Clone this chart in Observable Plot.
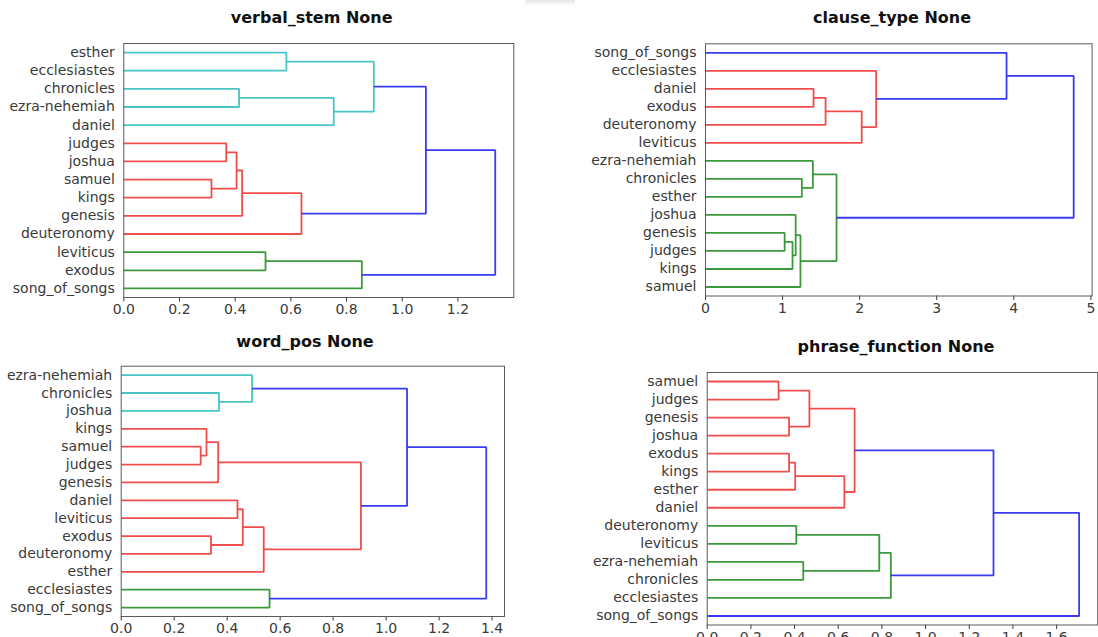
<!DOCTYPE html>
<html><head><meta charset="utf-8">
<script src="https://cdn.jsdelivr.net/npm/d3@7"></script>
<script src="https://cdn.jsdelivr.net/npm/@observablehq/plot@0.6"></script>
<style>
html,body{margin:0;padding:0;background:#fff;}
body{overflow:hidden;width:1098px;height:637px;position:relative;font-family:"DejaVu Sans",sans-serif;}
.panel{position:absolute;}
.title{position:absolute;font-weight:bold;font-size:16px;color:#111;transform:translate(-50%,-50%);white-space:nowrap;font-family:"DejaVu Sans",sans-serif;}
.shade{position:absolute;left:525px;top:0;width:50px;height:6px;background:linear-gradient(#e6e6e6,#fff);}
</style></head><body>
<div class="shade"></div>
<script>
// ---- data ----
const titles = ["verbal_stem None", "clause_type None", "word_pos None", "phrase_function None"];

const leaves1 = ["esther","ecclesiastes","chronicles","ezra-nehemiah","daniel","judges","joshua","samuel","kings","genesis","deuteronomy","leviticus","exodus","song_of_songs"];
// [left child, right child, merge height, cluster colour]; numbers refer to earlier merges
const merges1 = [
  ["esther","ecclesiastes",0.584,"c"],
  ["chronicles","ezra-nehemiah",0.414,"c"],
  [1,"daniel",0.754,"c"],
  [0,2,0.898,"c"],
  ["judges","joshua",0.368,"r"],
  ["samuel","kings",0.315,"r"],
  [4,5,0.405,"r"],
  [6,"genesis",0.425,"r"],
  [7,"deuteronomy",0.638,"r"],
  [3,8,1.085,"b"],
  ["leviticus","exodus",0.509,"g"],
  [10,"song_of_songs",0.855,"g"],
  [9,11,1.334,"b"]
];
const xTicks1 = [0,0.2,0.4,0.6,0.8,1.0,1.2];

const leaves2 = ["song_of_songs","ecclesiastes","daniel","exodus","deuteronomy","leviticus","ezra-nehemiah","chronicles","esther","joshua","genesis","judges","kings","samuel"];
const merges2 = [
  ["daniel","exodus",1.402,"r"],
  [0,"deuteronomy",1.558,"r"],
  [1,"leviticus",2.027,"r"],
  ["ecclesiastes",2,2.214,"r"],
  ["song_of_songs",3,3.906,"b"],
  ["chronicles","esther",1.25,"g"],
  ["ezra-nehemiah",5,1.393,"g"],
  ["genesis","judges",1.027,"g"],
  [7,"kings",1.129,"g"],
  ["joshua",8,1.17,"g"],
  [9,"samuel",1.232,"g"],
  [6,10,1.70,"g"],
  [4,11,4.777,"b"]
];
const xTicks2 = [0,1,2,3,4,5];

const leaves3 = ["ezra-nehemiah","chronicles","joshua","kings","samuel","judges","genesis","daniel","leviticus","exodus","deuteronomy","esther","ecclesiastes","song_of_songs"];
const merges3 = [
  ["chronicles","joshua",0.369,"c"],
  ["ezra-nehemiah",0,0.494,"c"],
  ["samuel","judges",0.300,"r"],
  ["kings",2,0.322,"r"],
  [3,"genesis",0.366,"r"],
  ["daniel","leviticus",0.439,"r"],
  ["exodus","deuteronomy",0.339,"r"],
  [5,6,0.459,"r"],
  [7,"esther",0.538,"r"],
  [4,8,0.905,"r"],
  [1,9,1.079,"b"],
  ["ecclesiastes","song_of_songs",0.560,"g"],
  [10,11,1.378,"b"]
];
const xTicks3 = [0,0.2,0.4,0.6,0.8,1.0,1.2,1.4];

const leaves4 = ["samuel","judges","genesis","joshua","exodus","kings","esther","daniel","deuteronomy","leviticus","ezra-nehemiah","chronicles","ecclesiastes","song_of_songs"];
const merges4 = [
  ["samuel","judges",0.327,"r"],
  ["genesis","joshua",0.375,"r"],
  [0,1,0.468,"r"],
  ["exodus","kings",0.375,"r"],
  [3,"esther",0.403,"r"],
  [4,"daniel",0.628,"r"],
  [2,5,0.675,"r"],
  ["deuteronomy","leviticus",0.408,"g"],
  ["ezra-nehemiah","chronicles",0.44,"g"],
  [7,8,0.788,"g"],
  [9,"ecclesiastes",0.841,"g"],
  [6,10,1.311,"b"],
  [11,"song_of_songs",1.703,"b"]
];
const xTicks4 = [0,0.2,0.4,0.6,0.8,1.0,1.2,1.4,1.6];

const colorMap = {c: "#3fc2c2", r: "#ef4343", g: "#329432", b: "#3030f2"};

// ---- layout ----
const panels = [
  {leaves: leaves1, merges: merges1, ticks: xTicks1, fmt: d3.format(".1f"), title: titles[0],
   left: 0, top: 30, width: 530, height: 290, ml: 123.3, mr: 16.7, mt: 13, mb: 23, tx: 311.7, ty: 16.7},
  {leaves: leaves2, merges: merges2, ticks: xTicks2, fmt: d3.format("d"), title: titles[1],
   left: 560, top: 30, width: 538, height: 290, ml: 145, mr: 6.4, mt: 13.3, mb: 24.5, tx: 892, ty: 17.3},
  {leaves: leaves3, merges: merges3, ticks: xTicks3, fmt: d3.format(".1f"), title: titles[2],
   left: 0, top: 340, width: 530, height: 297, ml: 120.7, mr: 26, mt: 25.7, mb: 21, tx: 305, ty: 340.7},
  {leaves: leaves4, merges: merges4, ticks: xTicks4, fmt: d3.format(".1f"), title: titles[3],
   left: 560, top: 340, width: 538, height: 310, ml: 146.7, mr: 0.8, mt: 32, mb: 25.5, tx: 896, ty: 345.7}
];

function dendro(leaves, merges) {
  const nodes = [];
  const get = r => typeof r === "string" ? {y: leaves.indexOf(r) + 0.5, h: 0} : nodes[r];
  const pts = [];
  merges.forEach(([a, b, h, c], k) => {
    const A = get(a), B = get(b);
    nodes[k] = {y: (A.y + B.y) / 2, h};
    const col = colorMap[c];
    pts.push({k, x: A.h, y: A.y, col}, {k, x: h, y: A.y, col}, {k, x: h, y: B.y, col}, {k, x: B.h, y: B.y, col});
  });
  return {pts, maxH: d3.max(merges, m => m[2])};
}

for (const p of panels) {
  const {pts, maxH} = dendro(p.leaves, p.merges);
  const n = p.leaves.length;
  const chart = Plot.plot({
    width: p.width, height: p.height,
    marginLeft: p.ml, marginRight: p.mr, marginTop: p.mt, marginBottom: p.mb,
    style: {fontFamily: "DejaVu Sans, sans-serif", fontSize: "14px", color: "#3a3a3a", background: "transparent", overflow: "visible"},
    x: {domain: [0, maxH * 1.05], ticks: p.ticks, tickFormat: p.fmt, tickSize: 4.5, tickPadding: 2.2, label: null},
    y: {domain: [n, 0], ticks: p.leaves.map((d, i) => i + 0.5), tickFormat: v => p.leaves[Math.round(v - 0.5)], tickSize: 0, tickPadding: 9, label: null},
    color: {type: "identity"},
    marks: [
      Plot.line(pts, {x: "x", y: "y", z: "k", stroke: "col", strokeWidth: 1.8, strokeLinejoin: "miter", strokeLinecap: "butt", strokeOpacity: 0.95}),
      Plot.frame({stroke: "#5a5a5a", strokeWidth: 1})
    ]
  });
  const div = document.createElement("div");
  div.className = "panel";
  div.style.left = p.left + "px";
  div.style.top = p.top + "px";
  div.appendChild(chart);
  document.body.appendChild(div);
  const t = document.createElement("div");
  t.className = "title";
  t.style.left = p.tx + "px";
  t.style.top = p.ty + "px";
  t.textContent = p.title;
  document.body.appendChild(t);
}
</script>
</body></html>
